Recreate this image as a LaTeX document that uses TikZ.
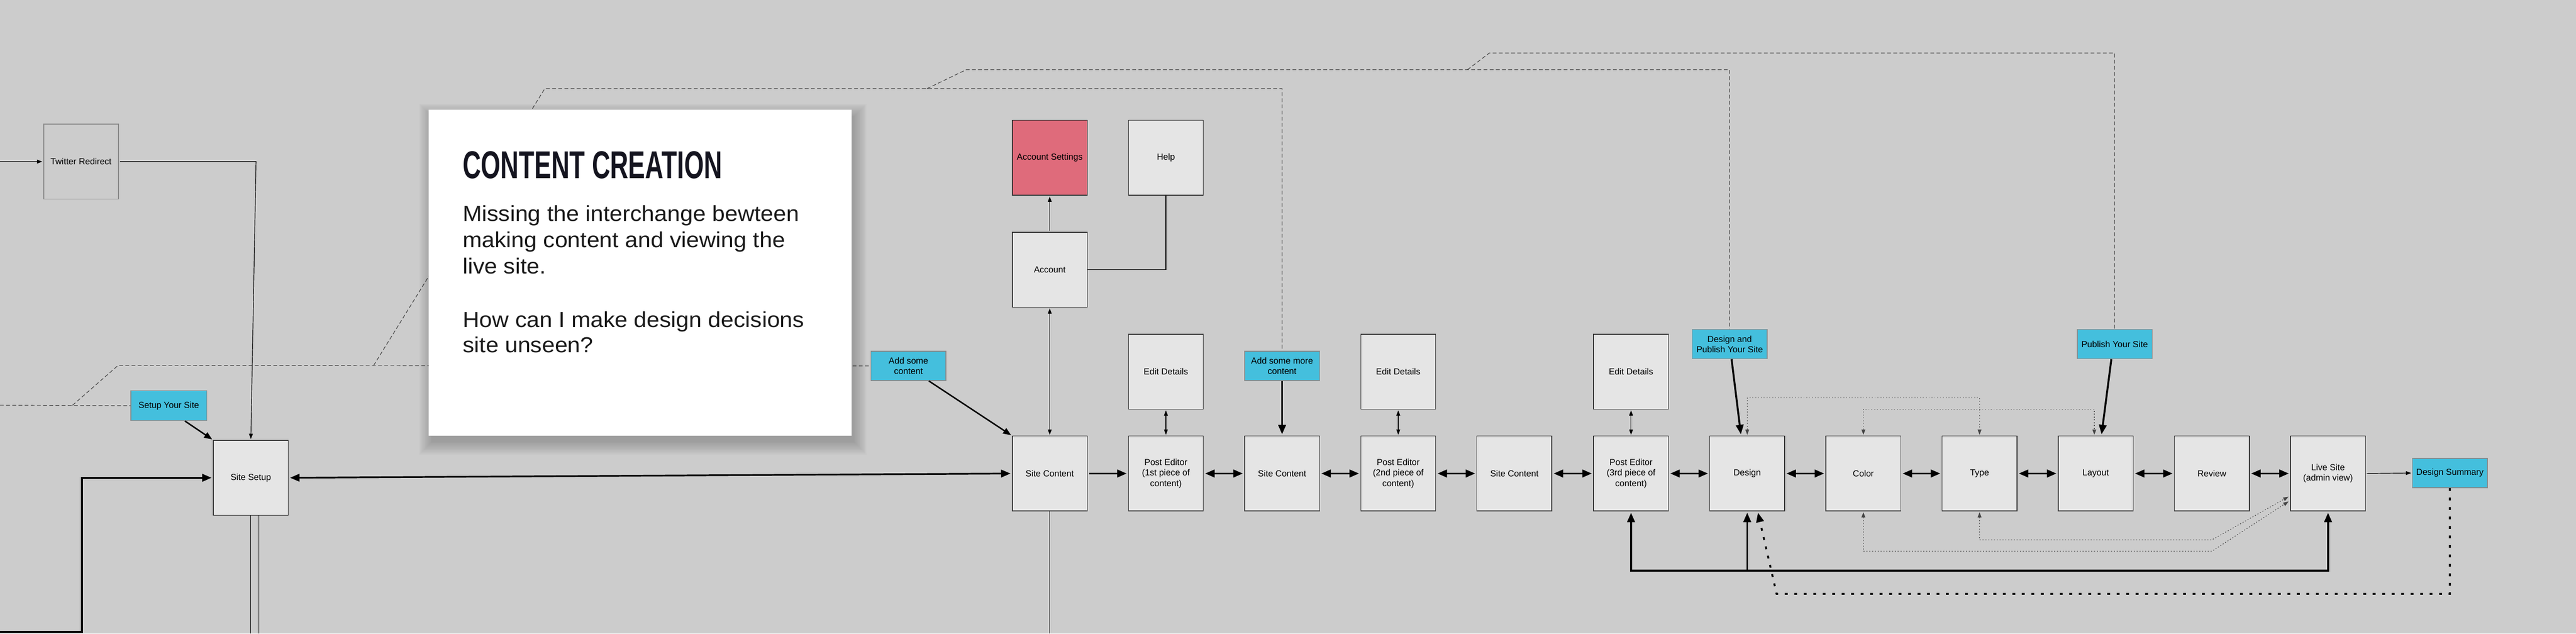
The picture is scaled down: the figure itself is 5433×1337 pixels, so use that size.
\documentclass[tikz,border=0pt]{standalone}
\usepackage{fontspec}
\usepackage{graphicx}
\setmainfont{Liberation Sans}
\newfontfamily\bodyfont[FakeStretch=1.055]{Liberation Sans}
\usetikzlibrary{arrows.meta,calc}
\definecolor{bg}{HTML}{CCCCCC}
\definecolor{boxfill}{HTML}{E5E5E5}
\definecolor{cyanbox}{HTML}{44BFDD}
\definecolor{pinkbox}{HTML}{DF6B7B}
\definecolor{edge}{HTML}{333333}
\definecolor{tagedge}{HTML}{8A8A8A}
\definecolor{conn}{HTML}{444444}
\definecolor{titlecol}{HTML}{14141F}
\definecolor{bodycol}{HTML}{1A1A1A}
\tikzset{
  BigT/.tip={Triangle[length=20pt,width=16pt]},
  MidT/.tip={Triangle[length=17pt,width=13pt]},
  SmallT/.tip={Triangle[length=11pt,width=8pt]},
}
\begin{document}
\begin{tikzpicture}[x=1pt,y=-1pt,
  every node/.style={font=\fontsize{18.5}{22}\selectfont, text=black},
  pbox/.style={draw=edge, line width=1.5pt, fill=boxfill, minimum width=158pt, minimum height=158pt, inner sep=0pt, align=center},
  pinkpbox/.style={pbox, fill=pinkbox},
  ghostbox/.style={pbox, draw=tagedge, line width=2pt, fill=bg},
  tag/.style={draw=tagedge, line width=1.5pt, fill=cyanbox, minimum width=158pt, minimum height=62pt, inner sep=0pt, align=center},
  bodyline/.style={anchor=base west, inner sep=0pt, font=\bodyfont\fontsize{46}{55}\selectfont, text=bodycol},
  thinline/.style={draw=black, line width=1.3pt, shorten >=2pt, shorten <=2pt},
  medline/.style={draw=black, line width=3pt, shorten >=2pt},
  thickline/.style={draw=black, line width=4pt, shorten >=3pt, shorten <=3pt},
  dashone/.style={draw=conn, line width=1.3pt, dash pattern=on 8pt off 5pt},
  dotone/.style={draw=conn, line width=1.3pt, dash pattern=on 2pt off 4pt, shorten >=2pt, shorten <=2pt},
  dotbig/.style={draw=black, line width=4pt, dash pattern=on 6pt off 14pt, shorten >=3pt},
]
\useasboundingbox (0,0) rectangle (5433,1337);
\fill[bg] (0,0) rectangle (5433,1337);

% ---------- nodes ----------
\node[ghostbox] (twitter) at (171,341) {Twitter Redirect};
\node[pbox] (sitesetup) at (529,1008) {Site Setup};
\node[tag, minimum width=160pt, minimum height=63pt] (setup) at (356,856) {Setup Your Site};
\node[tag] (addsome) at (1916,772) {Add some\\content};
\node[tag] (addmore) at (2704,772) {Add some more\\content};
\node[tag] (designpub) at (3648,726) {Design and\\Publish Your Site};
\node[tag] (publish) at (4460,726) {Publish Your Site};
\node[tag] (summary) at (5167,998) {Design Summary};

\node[pinkpbox] (accset) at (2214,333) {Account Settings};
\node[pbox] (help) at (2459,333) {Help};
\node[pbox] (account) at (2214,569) {Account};
\node[pbox] (ed1) at (2459,784) {Edit Details};
\node[pbox] (ed2) at (2949,784) {Edit Details};
\node[pbox] (ed3) at (3440,784) {Edit Details};

\node[pbox] (sc1) at (2214,999) {Site Content};
\node[pbox] (pe1) at (2459,999) {Post Editor\\(1st piece of\\content)};
\node[pbox] (sc2) at (2704,999) {Site Content};
\node[pbox] (pe2) at (2949,999) {Post Editor\\(2nd piece of\\content)};
\node[pbox] (sc3) at (3194,999) {Site Content};
\node[pbox] (pe3) at (3440,999) {Post Editor\\(3rd piece of\\content)};
\node[pbox] (design) at (3685,999) {Design};
\node[pbox] (color) at (3930,999) {Color};
\node[pbox] (type) at (4175,999) {Type};
\node[pbox] (layout) at (4420,999) {Layout};
\node[pbox] (review) at (4665,999) {Review};
\node[pbox] (live) at (4910,999) {Live Site\\(admin view)};

% ---------- coordinates ----------
\coordinate (lftA) at (0,855);
\coordinate (bend1) at (153,855);
\coordinate (bend2) at (249,771);
\coordinate (bend3) at (788,771);
\coordinate (bend4) at (1149,187);
\coordinate (bend5) at (1955,187);
\coordinate (bend6) at (2038,147);
\coordinate (bend7) at (3095,147);
\coordinate (bend8) at (3141,112);
\coordinate (twin) at (0,341);
\coordinate (twturn) at (540,341);
\coordinate (lftB) at (0,1333);
\coordinate (lftturn) at (173,1333);
\coordinate (ssbotA) at (529,1337);
\coordinate (ssbotB) at (546,1337);
\coordinate (scbot) at (2214,1337);
\coordinate (tb) at (4665,1139);
\coordinate (cb) at (4665,1163);
\coordinate (busR) at (4910,1204);
\coordinate (busM) at (3685,1204);
\coordinate (dotL) at (3747,1253);

% ---------- dashed flow lines (under the card) ----------
\draw[dashone] (lftA) -- (setup.west);
\draw[dashone] (bend1) -- (bend2) -- (addsome.west);
\draw[dashone] (bend3) -- (bend4) -- (addmore.north |- bend4) -- (addmore.north);
\draw[dashone] (bend5) -- (bend6) -- (designpub.north |- bend6) -- (designpub.north);
\draw[dashone] (bend7) -- (bend8) -- (publish.north |- bend8) -- (publish.north);

% ---------- card ----------
\foreach \s in {0,2,...,26}
  \fill[black, opacity=0.014] (904+6-\s,231+14-\s) rectangle (1796+6+\s,919+14+\s);
\fill[white] (904,231) rectangle (1796,919);
\node[anchor=base west, inner sep=0pt, font=\fontsize{82}{82}\selectfont\bfseries, text=titlecol] (title) at (976,377) {\scalebox{0.65}[1]{CONTENT CREATION}};
\node[bodyline] (b1) at (976,467) {Missing the interchange bewteen};
\node[bodyline] (b2) at (976,522) {making content and viewing the};
\node[bodyline] (b3) at (976,577) {live site.};
\node[bodyline] (b4) at (976,690) {How can I make design decisions};
\node[bodyline] (b5) at (976,744) {site unseen?};

% ---------- left part ----------
\draw[thinline, -SmallT, shorten <=0pt] (twin) -- (twitter.west);
\draw[thinline, -SmallT] (twitter.east) -- (twturn) -- (sitesetup.north);
\draw[thickline, -BigT, shorten <=0pt] (lftB) -- (lftturn) |- (sitesetup.west);
\draw[draw=black, line width=1.3pt] (sitesetup.south) -- (ssbotA);
\draw[draw=black, line width=1.3pt] ($(sitesetup.south)+(17,0)$) -- (ssbotB);
\draw[medline, -MidT] ($(setup.south)+(34,0)$) -- (sitesetup.north west);
\draw[thickline, BigT-BigT, line width=3.5pt] (sitesetup.east) -- (sc1.west);

% ---------- account area ----------
\draw[medline, -MidT] ($(addsome.south)+(43,0)$) -- (sc1.north west);
\draw[thinline, SmallT-SmallT] (sc1.north) -- (account.south);
\draw[thinline, -SmallT] (account.north) -- (accset.south);
\draw[draw=black, line width=1.3pt] (help.south) |- (account.east);
\draw[draw=black, line width=1.3pt] (sc1.south) -- (scbot);

% ---------- edit details ----------
\draw[thinline, SmallT-SmallT] (ed1.south) -- (pe1.north);
\draw[thinline, SmallT-SmallT] (ed2.south) -- (pe2.north);
\draw[thinline, SmallT-SmallT] (ed3.south) -- (pe3.north);

% ---------- main row ----------
\draw[thickline, -BigT] (sc1.east) -- (pe1.west);
\draw[thickline, BigT-BigT] (pe1.east) -- (sc2.west);
\draw[thickline, BigT-BigT] (sc2.east) -- (pe2.west);
\draw[thickline, BigT-BigT] (pe2.east) -- (sc3.west);
\draw[thickline, BigT-BigT] (sc3.east) -- (pe3.west);
\draw[thickline, BigT-BigT] (pe3.east) -- (design.west);
\draw[thickline, BigT-BigT] (design.east) -- (color.west);
\draw[thickline, BigT-BigT] (color.east) -- (type.west);
\draw[thickline, BigT-BigT] (type.east) -- (layout.west);
\draw[thickline, BigT-BigT] (layout.east) -- (review.west);
\draw[thickline, BigT-BigT] (review.east) -- (live.west);
\draw[thinline, -SmallT] (live.east) -- (summary.west);

% ---------- tags into the row ----------
\draw[thickline, -BigT, shorten <=0pt] (addmore.south) -- (sc2.north);
\draw[thickline, -BigT, shorten <=0pt] ($(designpub.south)+(4,0)$) -- ($(design.north)+(-13,0)$);
\draw[thickline, -BigT, shorten <=0pt] ($(publish.south)+(-7,0)$) -- ($(layout.north)+(12,0)$);

% ---------- dotted design loops ----------
\draw[dotone, SmallT-SmallT] (design.north) |- ($(type.north)+(0,-80)$) -- (type.north);
\draw[dotone, SmallT-SmallT] (color.north) |- ($(layout.north)+(-3,-56)$) -- ($(layout.north)+(-3,0)$);
\draw[dotone, SmallT-SmallT] (type.south) |- (tb) -- ($(live.west)+(-2,48)$);
\draw[dotone, SmallT-SmallT] (color.south) |- (cb) -- ($(live.west)+(-2,58)$);

% ---------- thick return bus ----------
\draw[thickline, BigT-BigT] (pe3.south) |- (busR) -- (live.south);
\draw[thickline, -BigT, shorten <=0pt] (busM) -- (design.south);
\draw[dotbig, -BigT] (summary.south) |- (dotL) -- ($(design.south)+(22,0)$);
\end{tikzpicture}
\end{document}
